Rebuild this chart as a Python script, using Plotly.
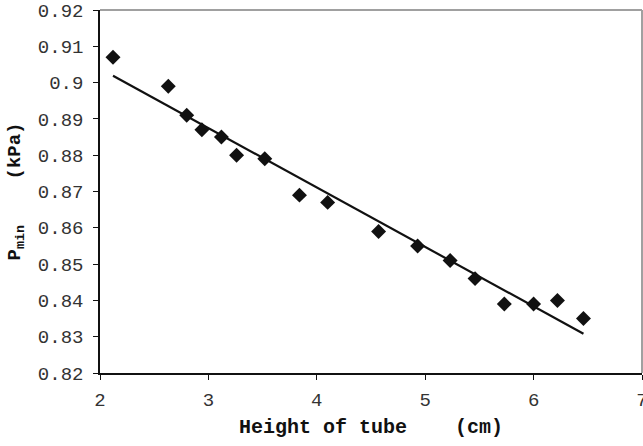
import numpy as np
import plotly.graph_objects as go

height_cm = [2.12, 2.63, 2.80, 2.94, 3.12, 3.26, 3.52, 3.84, 4.10, 4.57, 4.93, 5.23, 5.46, 5.73, 6.00, 6.22, 6.46]
p_min_kpa = [0.907, 0.899, 0.891, 0.887, 0.885, 0.880, 0.879, 0.869, 0.867, 0.859, 0.855, 0.851, 0.846, 0.839, 0.839, 0.840, 0.835]

x_ticks = [2, 3, 4, 5, 6, 7]
y_ticks = [0.82, 0.83, 0.84, 0.85, 0.86, 0.87, 0.88, 0.89, 0.90, 0.91, 0.92]
y_tick_text = ["0.82", "0.83", "0.84", "0.85", "0.86", "0.87", "0.88", "0.89", "0.9", "0.91", "0.92"]

# linear trend line fitted to the data
coef = np.polyfit(height_cm, p_min_kpa, 1)
trend_x = [min(height_cm), max(height_cm)]
trend_y = [coef[0] * v + coef[1] for v in trend_x]

FONT = "Courier New, Liberation Mono, monospace"
NB = "\u00a0"

fig = go.Figure()
fig.add_trace(go.Scatter(x=trend_x, y=trend_y, mode="lines",
                         line=dict(color="#111111", width=2.2), showlegend=False))
fig.add_trace(go.Scatter(x=height_cm, y=p_min_kpa, mode="markers",
                         marker=dict(symbol="diamond", size=11.5, color="#111111"),
                         showlegend=False))

fig.update_layout(
    width=643, height=446,
    margin=dict(l=100, r=1, t=10, b=73),
    paper_bgcolor="white", plot_bgcolor="white",
    font=dict(family=FONT, size=19, color="#333333"),
    xaxis=dict(range=[2, 7], tickvals=x_ticks, showgrid=False, zeroline=False,
               showline=True, linecolor="#111111", linewidth=1.5,
               ticks="outside", ticklen=5, tickcolor="#111111",
               ticklabelstandoff=3, ticklabeloverflow="allow", automargin=False,
               title=dict(text="<b>Height of tube" + NB * 4 + "(cm)</b>",
                          font=dict(family=FONT, size=20, color="#111111"), standoff=8)),
    yaxis=dict(range=[0.82, 0.92], tickvals=y_ticks, ticktext=y_tick_text,
               showgrid=False, zeroline=False,
               showline=True, linecolor="#111111", linewidth=1.5,
               ticks="outside", ticklen=5, tickcolor="#111111",
               ticklabelstandoff=6, ticklabeloverflow="allow", automargin=False,
               title=dict(text="<b>P<sub>min</sub>" + NB * 4 + "(kPa)</b>",
                          font=dict(family=FONT, size=19, color="#111111"), standoff=12)),
    shapes=[
        dict(type="line", xref="paper", yref="paper", x0=0, x1=1, y0=1, y1=1,
             line=dict(color="#a0a0a0", width=2)),
        dict(type="line", xref="paper", yref="paper", x0=1, x1=1, y0=0, y1=1,
             line=dict(color="#a0a0a0", width=2)),
    ],
)

fig.write_html("out.html")
